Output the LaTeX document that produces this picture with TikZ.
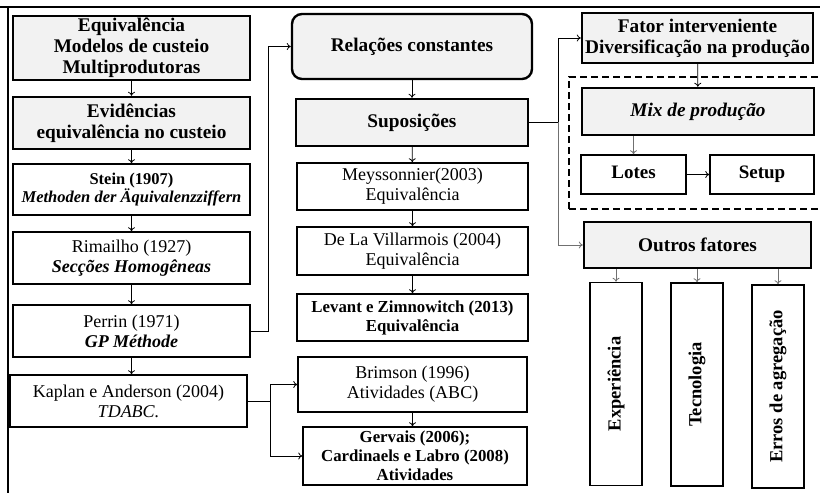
\documentclass[tikz,border=0pt]{standalone}
\usepackage{fontspec}
\setmainfont{Liberation Serif}
\usetikzlibrary{arrows.meta}
\definecolor{boxgray}{HTML}{F2F2F2}
\definecolor{linkgray}{HTML}{707070}

\begin{document}
\begin{tikzpicture}[x=1pt, y=1pt,
  >={To[length=4pt,width=7pt]},
  graybox/.style={draw, fill=boxgray, line width=2.4pt, inner sep=0pt, align=center,
    font=\bfseries\fontsize{19.3}{20.8}\selectfont},
  whitebox/.style={draw, fill=white, line width=1.5pt, inner sep=0pt, align=center,
    font=\fontsize{18}{20}\selectfont},
  vertbox/.style={whitebox, rotate=90, minimum width=203pt, minimum height=52pt,
    font=\bfseries\fontsize{18.5}{20}\selectfont},
  link/.style={->, line width=0.8pt},
  ]
  \useasboundingbox (0,0) rectangle (820,493);
  % frame of the table cell
  \draw [line width=2pt] (0,486) -- (820,486);
  \draw [line width=2.2pt] (8,486) -- (8,0);

  % left column
  \node [graybox, minimum width=237pt, minimum height=64pt] (equiv) at (131.5,445)
    {Equivalência\\Modelos de custeio\\Multiprodutoras};
  \node [graybox, minimum width=237pt, minimum height=52pt] (evid) at (131.5,370)
    {Evidências\\equivalência no custeio};
  \node [whitebox, minimum width=237pt, minimum height=51pt, font=\fontsize{16.5}{18}\selectfont] (stein) at (131.5,303.5)
    {\textbf{Stein (1907)}\\\textbf{\textit{Methoden der Äquivalenzziffern}}};
  \node [whitebox, minimum width=237pt, minimum height=52pt] (rimailho) at (131.5,235)
    {Rimailho (1927)\\\textbf{\textit{Secções Homogêneas}}};
  \node [whitebox, minimum width=237pt, minimum height=52pt] (perrin) at (131.5,162)
    {Perrin (1971)\\\textbf{\textit{GP Méthode}}};
  \node [whitebox, minimum width=237pt, minimum height=52pt] (kaplan) at (128.5,92)
    {Kaplan e Anderson (2004)\\\textit{TDABC.}};

  \draw [link] (equiv) -- (evid);
  \draw [link] (evid) -- (stein);
  \draw [link] (stein) -- (rimailho);
  \draw [link] (rimailho) -- (perrin);
  \draw [link] (perrin.south) -- (perrin.south |- kaplan.north);

  % middle column
  \node [graybox, rounded corners=10pt, minimum width=240pt, minimum height=65pt] (relacoes) at (412,446.5)
    {Relações constantes};
  \node [graybox, minimum width=232pt, minimum height=47pt] (suposicoes) at (412,370.5) {Suposições};
  \node [whitebox, minimum width=231pt, minimum height=47pt] (meyss) at (412.5,306.5)
    {Meyssonnier(2003)\\Equivalência};
  \node [whitebox, minimum width=231pt, minimum height=48pt] (villar) at (412.5,242)
    {De La Villarmois (2004)\\Equivalência};
  \node [whitebox, minimum width=231pt, minimum height=47pt, font=\bfseries\fontsize{16.8}{19}\selectfont] (levant) at (412.5,175.5)
    {Levant e Zimnowitch (2013)\\Equivalência};
  \node [whitebox, minimum width=229pt, minimum height=55pt] (brimson) at (412.5,108.5)
    {Brimson (1996)\\Atividades (ABC)};
  \node [whitebox, minimum width=224pt, minimum height=58pt, font=\bfseries\fontsize{16.8}{19}\selectfont] (gervais) at (415,37)
    {Gervais (2006);\\Cardinaels e Labro (2008)\\Atividades};

  \draw [line width=0.8pt] (perrin.east) -- ++(18,0) coordinate (pj);
  \draw [link] (pj) |- (relacoes.west);
  \draw [link] (relacoes) -- (suposicoes);
  \draw [link] (suposicoes) -- (meyss);
  \draw [link] (meyss) -- (villar);
  \draw [link] (villar) -- (levant);
  \coordinate (kj) at (270,92);
  \draw [line width=0.8pt] (kaplan.east) -- (kj);
  \draw [link] (kj) |- (brimson.west);
  \draw [link] (kj) |- (gervais.west);
  \draw [link] (brimson.south) -- (brimson.south |- gervais.north);

  % right column
  \node [graybox, minimum width=231pt, minimum height=50pt] (fator) at (697.5,455)
    {Fator interveniente\\Diversificação na produção};
  \draw [dashed, dash pattern=on 7pt off 4pt, line width=2.2pt] (569,284) -- (569,416) -- (825,416)
    (569,284) -- (825,284);
  \node [graybox, minimum width=232pt, minimum height=47pt] (mix) at (698,381.5)
    {\textit{Mix de produção}};
  \node [whitebox, minimum width=105pt, minimum height=39pt, text height=13pt, text depth=4pt,
    font=\bfseries\fontsize{19}{20}\selectfont] (lotes) at (633.5,318.5) {Lotes};
  \node [whitebox, minimum width=104pt, minimum height=39pt, text height=13pt, text depth=4pt,
    font=\bfseries\fontsize{19}{20}\selectfont] (setup) at (762,318.5) {Setup};
  \node [graybox, minimum width=227pt, minimum height=46pt] (outros) at (697.5,248) {Outros fatores};
  \node [vertbox] (exper) at (616,109) {Experiência};
  \node [vertbox] (tecno) at (697,108.5) {Tecnologia};
  \node [vertbox] (erros) at (778,106.5) {Erros de agregação};

  \coordinate (sj) at (558,370.5);
  \draw [line width=0.8pt] (suposicoes.east) -- (sj);
  \draw [link] (sj) |- (fator.west);
  \draw [link, linkgray] (sj) |- (outros.west);
  \draw [link] (fator) -- (mix);
  \draw [link, linkgray] (mix.south -| lotes.north) -- (lotes.north);
  \draw [link] (lotes) -- (setup);
  \draw [link, linkgray] (outros.south -| exper.east) -- (exper.east);
  \draw [link, linkgray] (outros.south -| tecno.east) -- (tecno.east);
  \draw [link, linkgray] (outros.south -| erros.east) -- (erros.east);
\end{tikzpicture}
\end{document}
